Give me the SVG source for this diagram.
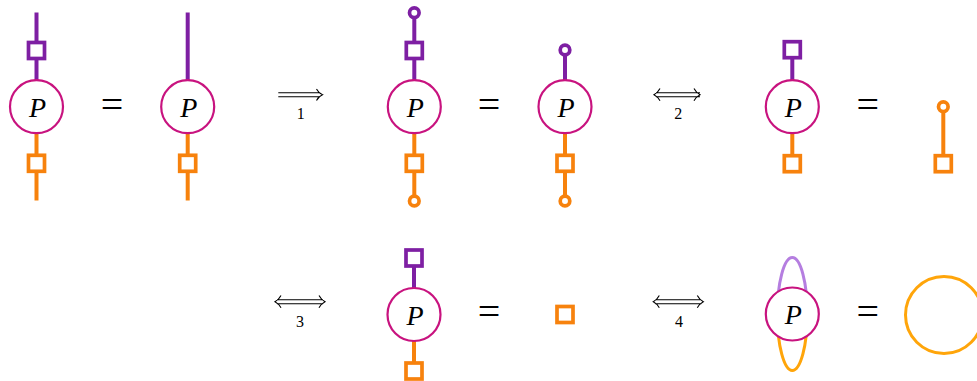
<svg xmlns="http://www.w3.org/2000/svg" width="977" height="381" viewBox="0 0 977 381">
<style>
.bg{fill:#ffffff}
.wp{stroke:#7e1fa3;stroke-width:4;fill:none}
.wo{stroke:#f7820d;stroke-width:4;fill:none}
.lp{stroke:#b57ee0;stroke-width:3;fill:none}
.lo{stroke:#ffa50a;stroke-width:3;fill:none}
.pc{fill:#ffffff;stroke:#c8137f;stroke-width:2.2}
.sqp{fill:#ffffff;stroke:#7e1fa3;stroke-width:3.7}
.sqo{fill:#ffffff;stroke:#f7820d;stroke-width:3.7}
.ep{fill:#ffffff;stroke:#7e1fa3;stroke-width:3.7}
.eo{fill:#ffffff;stroke:#f7820d;stroke-width:3.7}
.P{font-family:"Liberation Serif",serif;font-style:italic;font-size:28px;fill:#000;text-anchor:middle}
.eq{font-family:"Liberation Serif",serif;font-size:40px;fill:#000;text-anchor:middle}
.lb{font-family:"Liberation Serif",serif;font-size:16px;fill:#000;text-anchor:middle}
.ar{stroke:#000;stroke-width:1.1;fill:none}
</style>
<rect class="bg" x="0" y="0" width="977" height="381"/>
<g id="connectors">
<line class="wp" x1="36.5" y1="12.5" x2="36.5" y2="106.7"/>
<line class="wo" x1="36.5" y1="106.7" x2="36.5" y2="200.5"/>
<line class="wp" x1="187.7" y1="12.5" x2="187.7" y2="106.7"/>
<line class="wo" x1="187.7" y1="106.7" x2="187.7" y2="200.5"/>
<line class="wp" x1="414.3" y1="12.7" x2="414.3" y2="106.7"/>
<line class="wo" x1="414.3" y1="106.7" x2="414.3" y2="201"/>
<line class="wp" x1="565" y1="50" x2="565" y2="106.7"/>
<line class="wo" x1="565" y1="106.7" x2="565" y2="201"/>
<line class="wp" x1="792.3" y1="49.7" x2="792.3" y2="106.7"/>
<line class="wo" x1="792.3" y1="106.7" x2="792.3" y2="163.7"/>
<line class="wo" x1="943.3" y1="106.7" x2="943.3" y2="163.7"/>
<line class="wp" x1="414" y1="258" x2="414" y2="314.5"/>
<line class="wo" x1="414" y1="314.5" x2="414" y2="371"/>
<path class="lp" d="M777.3,314 A15,56.5 0 0 1 807.3,314"/>
<path class="lo" d="M777.3,314 A15,56.5 0 0 0 807.3,314"/>
</g>
<g id="arrows">
<path class="ar" d="M278.3,92.7 H320 M278.3,96.7 H320 M316.5,89 Q318.5,93 322.5,94.7 Q318.5,96.4 316.5,100.4"/>
<path class="ar" d="M656,92.7 H700 M656,96.7 H700 M660,88.6 Q658,92.6 654,94.7 Q658,96.8 660,100.8 M694,88.6 Q696,92.6 700,94.7 Q696,96.8 694,100.8"/>
<path class="ar" d="M277,299.7 H323 M277,303.7 H323 M281,295.6 Q279,299.6 275,301.7 Q279,303.8 281,307.8 M319,295.6 Q321,299.6 325,301.7 Q321,303.8 319,307.8"/>
<path class="ar" d="M655.3,299.7 H701.3 M655.3,303.7 H701.3 M659.3,295.6 Q657.3,299.6 653.3,301.7 Q657.3,303.8 659.3,307.8 M697.3,295.6 Q699.3,299.6 703.3,301.7 Q699.3,303.8 697.3,307.8"/>
<text class="lb" x="300.7" y="119.3">1</text>
<text class="lb" x="678.3" y="119.3">2</text>
<text class="lb" x="300" y="327">3</text>
<text class="lb" x="679" y="327">4</text>
</g>
<g id="equals">
<text class="eq" x="112" y="118.2">=</text>
<text class="eq" x="489" y="118.2">=</text>
<text class="eq" x="867.7" y="118.2">=</text>
<text class="eq" x="489" y="325.3">=</text>
<text class="eq" x="867.8" y="325.3">=</text>
</g>
<g id="node1">
<rect class="sqp" x="28.5" y="42.5" width="16" height="16"/>
<circle class="pc" cx="36.5" cy="106.7" r="26.5"/>
<text class="P" x="37.5" y="116.7">P</text>
<rect class="sqo" x="28.5" y="155.3" width="16" height="16"/>
</g>
<g id="node2">
<circle class="pc" cx="187.7" cy="106.7" r="26.5"/>
<text class="P" x="188.7" y="116.7">P</text>
<rect class="sqo" x="179.7" y="155.3" width="16" height="16"/>
</g>
<g id="node3">
<circle class="ep" cx="414.3" cy="12.7" r="4.8"/>
<rect class="sqp" x="406.3" y="42.5" width="16" height="16"/>
<circle class="pc" cx="414.3" cy="106.7" r="26.5"/>
<text class="P" x="415.3" y="116.7">P</text>
<rect class="sqo" x="406.3" y="155.3" width="16" height="16"/>
<circle class="eo" cx="414.3" cy="201" r="4.8"/>
</g>
<g id="node4">
<circle class="ep" cx="565" cy="50" r="4.8"/>
<circle class="pc" cx="565" cy="106.7" r="26.5"/>
<text class="P" x="566" y="116.7">P</text>
<rect class="sqo" x="557" y="155.3" width="16" height="16"/>
<circle class="eo" cx="565" cy="201" r="4.8"/>
</g>
<g id="node5">
<rect class="sqp" x="784.3" y="41.7" width="16" height="16"/>
<circle class="pc" cx="792.3" cy="106.7" r="26.5"/>
<text class="P" x="793.3" y="116.7">P</text>
<rect class="sqo" x="784.3" y="155.7" width="16" height="16"/>
</g>
<g id="node5b">
<circle class="eo" cx="943.3" cy="106.7" r="4.8"/>
<rect class="sqo" x="935.3" y="155.7" width="16" height="16"/>
</g>
<g id="node6">
<rect class="sqp" x="406" y="250" width="16" height="16"/>
<circle class="pc" cx="414" cy="314.5" r="26.5"/>
<text class="P" x="415" y="324.5">P</text>
<rect class="sqo" x="406" y="363" width="16" height="16"/>
</g>
<g id="node6b">
<rect class="sqo" x="557" y="306.5" width="16" height="16"/>
</g>
<g id="node7">
<circle class="pc" cx="792.3" cy="314" r="26.5"/>
<text class="P" x="793.3" y="324">P</text>
</g>
<g id="node7b">
<circle class="lo" cx="944" cy="315" r="38.5"/>
</g>
</svg>
